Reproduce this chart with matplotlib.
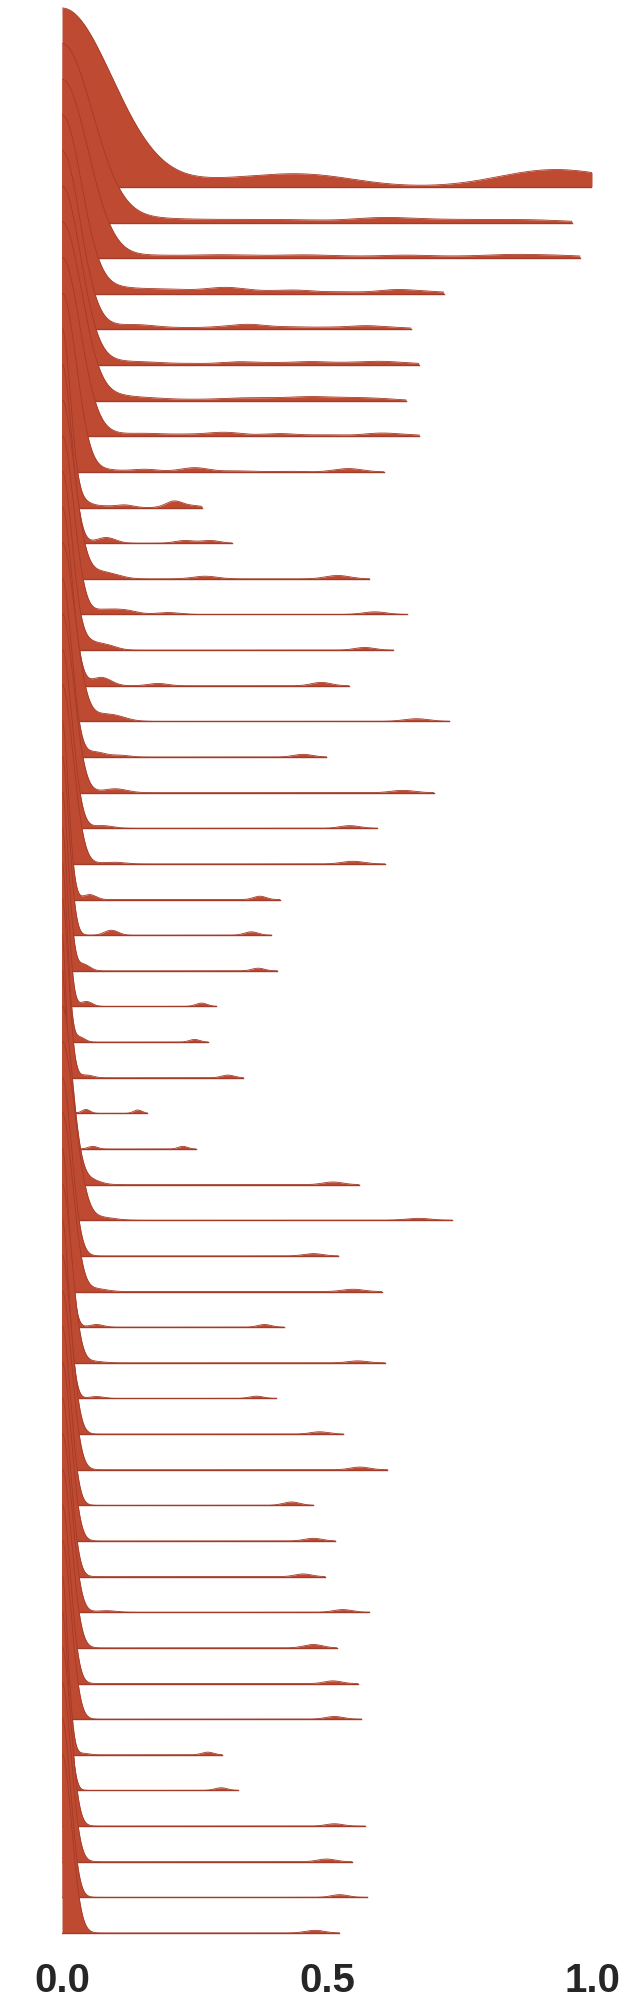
import numpy as np
import matplotlib.pyplot as plt

# right end of each ridge (data max of the row)
row_end = [1.0, 0.962, 0.977, 0.72, 0.658, 0.673, 0.649, 0.674, 0.607, 0.264,
           0.32, 0.58, 0.65, 0.625, 0.541, 0.731, 0.499, 0.701, 0.595, 0.609,
           0.411, 0.395, 0.406, 0.29, 0.275, 0.342, 0.161, 0.252, 0.56, 0.735,
           0.521, 0.603, 0.418, 0.609, 0.404, 0.53, 0.614, 0.474, 0.515, 0.496,
           0.58, 0.518, 0.558, 0.565, 0.302, 0.332, 0.571, 0.547, 0.576, 0.523]

# kde bandwidth of each row
row_bw = [0.095, 0.058, 0.049, 0.037, 0.034, 0.035, 0.037, 0.034, 0.027, 0.016,
          0.018, 0.023, 0.022, 0.019, 0.0185, 0.024, 0.018, 0.022, 0.019, 0.021,
          0.012, 0.013, 0.012, 0.011, 0.010, 0.012, 0.008, 0.009, 0.019, 0.024,
          0.018, 0.02, 0.013, 0.018, 0.013, 0.017, 0.018, 0.016, 0.017, 0.016,
          0.018, 0.018, 0.016, 0.017, 0.011, 0.012, 0.016, 0.017, 0.016, 0.018]

# secondary clusters of each row (position, weight relative to the peak at 0)
bump_pos = [
    [0.3, 0.46, 0.9, 1.0],
    [0.15, 0.25, 0.35, 0.45, 0.6, 0.7, 0.8, 0.9],
    [0.15, 0.22, 0.3, 0.38, 0.46, 0.55, 0.65, 0.75, 0.84, 0.9, 0.96],
    [0.1, 0.17, 0.23, 0.307, 0.37, 0.44, 0.53, 0.63, 0.7],
    [0.09, 0.148, 0.22, 0.29, 0.353, 0.43, 0.5, 0.573, 0.64],
    [0.09, 0.16, 0.24, 0.33, 0.4, 0.47, 0.54, 0.6, 0.66],
    [0.1, 0.17, 0.25, 0.33, 0.4, 0.47, 0.54, 0.6],
    [0.08, 0.156, 0.23, 0.307, 0.41, 0.5, 0.6, 0.66],
    [0.08, 0.156, 0.25, 0.33, 0.42, 0.54],
    [0.042, 0.08, 0.118, 0.212, 0.25],
    [0.083, 0.231, 0.28],
    [0.055, 0.09, 0.27, 0.52],
    [0.08, 0.12, 0.2, 0.59],
    [0.05, 0.085, 0.571],
    [0.074, 0.181, 0.489],
    [0.07, 0.1, 0.669],
    [0.062, 0.109, 0.455],
    [0.10, 0.643],
    [0.077, 0.543],
    [0.096, 0.549],
    [0.052, 0.373],
    [0.093, 0.357],
    [0.04, 0.37],
    [0.046, 0.263],
    [0.033, 0.25],
    [0.046, 0.313],
    [0.045, 0.143],
    [0.058, 0.228],
    [0.052, 0.511],
    [0.077, 0.672],
    [0.474],
    [0.065, 0.549],
    [0.065, 0.382],
    [0.06, 0.558],
    [0.065, 0.367],
    [0.486],
    [0.562],
    [0.433],
    [0.474],
    [0.455],
    [0.084, 0.53],
    [0.474],
    [0.511],
    [0.514],
    [0.04, 0.275],
    [0.30],
    [0.514],
    [0.499],
    [0.524],
    [0.477],
]
bump_wt = [
    [0.03, 0.065, 0.07, 0.04],
    [0.02, 0.012, 0.012, 0.012, 0.025, 0.012, 0.012, 0.012],
    [0.012, 0.008, 0.015, 0.008, 0.015, 0.008, 0.015, 0.008, 0.015, 0.008, 0.01],
    [0.03, 0.02, 0.015, 0.032, 0.01, 0.019, 0.01, 0.022, 0.01],
    [0.015, 0.022, 0.008, 0.01, 0.026, 0.012, 0.01, 0.019, 0.008],
    [0.02, 0.015, 0.008, 0.017, 0.01, 0.017, 0.01, 0.017, 0.008],
    [0.025, 0.012, 0.006, 0.013, 0.012, 0.019, 0.013, 0.01],
    [0.015, 0.015, 0.01, 0.022, 0.015, 0.008, 0.017, 0.006],
    [0.012, 0.015, 0.024, 0.006, 0.004, 0.019],
    [0.028, 0.008, 0.015, 0.037, 0.01],
    [0.032, 0.015, 0.015],
    [0.03, 0.025, 0.015, 0.019],
    [0.025, 0.022, 0.011, 0.015],
    [0.04, 0.025, 0.015],
    [0.047, 0.013, 0.019],
    [0.025, 0.025, 0.015],
    [0.028, 0.01, 0.015],
    [0.022, 0.013],
    [0.015, 0.015],
    [0.01, 0.015],
    [0.028, 0.019],
    [0.028, 0.019],
    [0.037, 0.015],
    [0.028, 0.019],
    [0.028, 0.015],
    [0.015, 0.015],
    [0.022, 0.019],
    [0.015, 0.015],
    [0.028, 0.015],
    [0.015, 0.011],
    [0.013],
    [0.015, 0.013],
    [0.015, 0.015],
    [0.008, 0.011],
    [0.011, 0.013],
    [0.013],
    [0.015],
    [0.019],
    [0.015],
    [0.015],
    [0.009, 0.015],
    [0.019],
    [0.015],
    [0.015],
    [0.008, 0.015],
    [0.015],
    [0.013],
    [0.015],
    [0.015],
    [0.015],
]

tick_values = [0.0, 0.5, 1.0]
tick_labels = ['0.0', '0.5', '1.0']

fill_color = '#be4a32'
line_color = '#a33b28'
overlap = 5.02  # peak height in row spacings

fig = plt.figure(figsize=(6.3, 20.08), dpi=100)
# axes placed so x 0..1 spans 62..592 px and rows run from y=9 to 1934 px
ax = fig.add_axes([62 / 630, 0.02799, 530 / 630, 0.99694 - 0.02799])

for i in range(len(row_end)):
    x = np.linspace(0, row_end[i], 600)
    obs = np.r_[0.0, bump_pos[i]]
    wt = np.r_[1.0, bump_wt[i]]
    dens = (wt[:, None] * np.exp(-0.5 * ((x[None, :] - obs[:, None]) / row_bw[i]) ** 2)).sum(0)
    dens = dens / dens.max() * overlap
    base = -i
    ax.fill_between(x, base, base + dens, color=fill_color, lw=0, zorder=i)
    ax.plot(x, base + dens, color=line_color, lw=0.6, zorder=i + 0.5)
    ax.plot([0, row_end[i]], [base, base], color=line_color, lw=1.0, zorder=i + 0.5)

ax.set_xlim(0, 1)
ax.set_ylim(-49.5, 5.1)
ax.set_yticks([])
ax.set_xticks(tick_values)
ax.set_xticklabels(tick_labels, fontsize=29, fontweight='bold',
                   family=['Liberation Sans', 'DejaVu Sans'], color='#262626')
ax.tick_params(axis='x', length=0, pad=7)
for s in ax.spines.values():
    s.set_visible(False)
ax.patch.set_visible(False)

fig.savefig('out.png', dpi=100)
